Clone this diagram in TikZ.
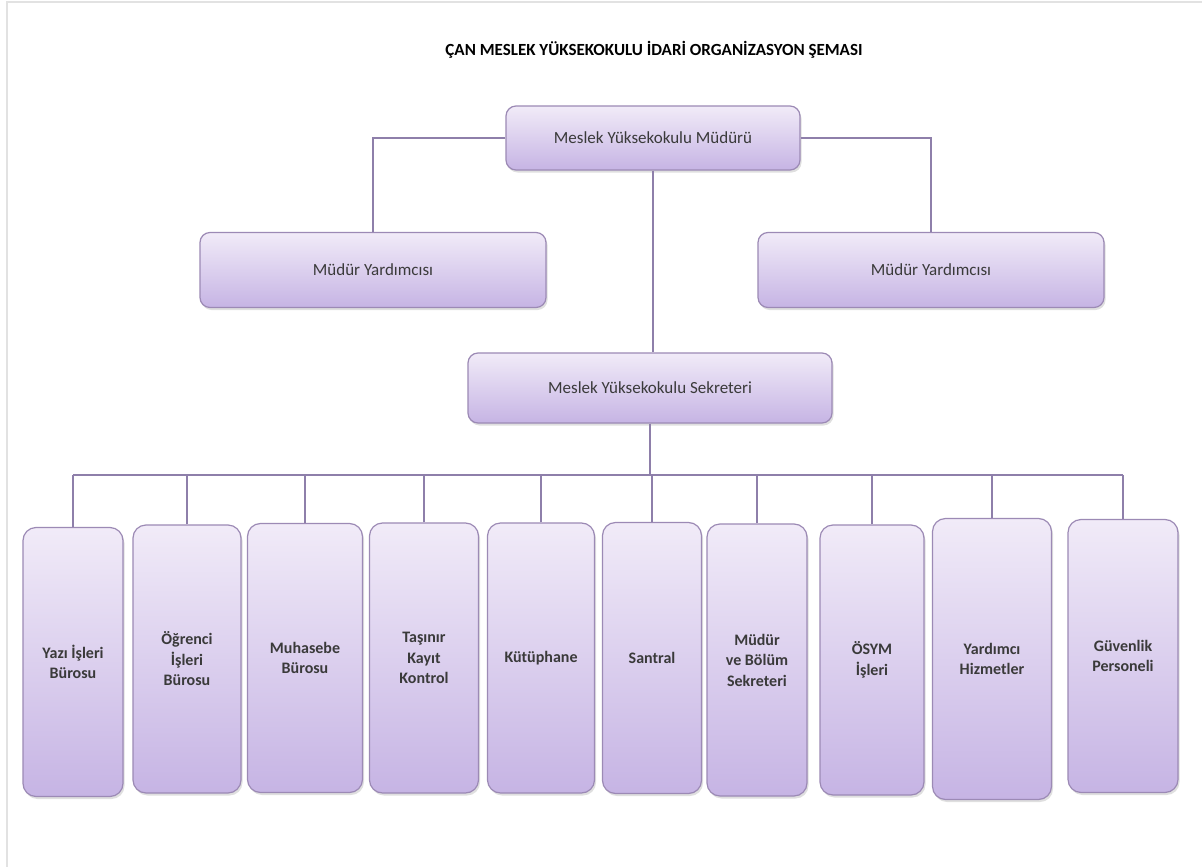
\documentclass[tikz,border=0pt]{standalone}
\usepackage{fontspec}
\setmainfont{Carlito}
\usetikzlibrary{shadows}

\definecolor{boxtop}{HTML}{F1EBF8}
\definecolor{boxbot}{HTML}{C6B4E4}
\definecolor{boxline}{HTML}{9C8AB5}
\definecolor{linkcol}{HTML}{8E7FAA}
\definecolor{txtcol}{HTML}{3A3A3A}
\definecolor{framecol}{HTML}{E2E2E2}

\tikzset{
	orgbox/.style={draw=boxline, line width=1.2pt, rounded corners=10pt,
		top color=boxtop, bottom color=boxbot, text=txtcol,
		font=\fontsize{17}{20}\selectfont, align=center, inner sep=0pt,
		drop shadow={opacity=0.25, shadow xshift=1.5pt, shadow yshift=-2.5pt}},
	unitbox/.style={orgbox, rounded corners=13pt,
		font=\bfseries\fontsize{16}{20.5}\selectfont},
	link/.style={draw=linkcol, line width=1.2pt},
}

\begin{document}
\begin{tikzpicture}[x=1pt, y=-1pt]
		\useasboundingbox (0,0) rectangle (1202,867);
		\fill[white] (0,0) rectangle (1202,867);
		\draw[framecol, line width=2pt] (7,867) -- (7,2) -- (1202,2);

		\node[font=\bfseries\fontsize{17}{20}\selectfont] (title) at (654,50) {ÇAN MESLEK YÜKSEKOKULU İDARİ ORGANİZASYON ŞEMASI};

		% upper levels
		\node[orgbox, minimum width=294pt, minimum height=64pt] (mud) at (653,138) {Meslek Yüksekokulu Müdürü};
		\node[orgbox, minimum width=346pt, minimum height=75pt] (myl) at (373,270) {Müdür Yardımcısı};
		\node[orgbox, minimum width=346pt, minimum height=75pt] (myr) at (931,270) {Müdür Yardımcısı};
		\node[orgbox, minimum width=364pt, minimum height=70pt] (sek) at (650,388) {Meslek Yüksekokulu Sekreteri};

		% units
		\node[unitbox, minimum width=100pt, minimum height=269pt] (yazi) at (73,662) {Yazı İşleri\\Bürosu};
		\node[unitbox, minimum width=108pt, minimum height=268pt] (ogr) at (187,659) {Öğrenci\\İşleri\\Bürosu};
		\node[unitbox, minimum width=115pt, minimum height=269pt] (muh) at (305,658) {Muhasebe\\Bürosu};
		\node[unitbox, minimum width=109pt, minimum height=270pt] (tas) at (424,658) {Taşınır\\Kayıt\\Kontrol};
		\node[unitbox, minimum width=107pt, minimum height=270pt] (kut) at (541,658) {Kütüphane};
		\node[unitbox, minimum width=99pt, minimum height=271pt] (san) at (652,658) {Santral};
		\node[unitbox, minimum width=100pt, minimum height=272pt] (bol) at (757,660) {Müdür\\ve Bölüm\\Sekreteri};
		\node[unitbox, minimum width=104pt, minimum height=270pt] (osym) at (872,660) {ÖSYM\\İşleri};
		\node[unitbox, minimum width=119pt, minimum height=281pt] (yrd) at (992,659) {Yardımcı\\Hizmetler};
		\node[unitbox, minimum width=110pt, minimum height=273pt] (guv) at (1123,656) {Güvenlik\\Personeli};

		\coordinate (bus) at (655,475);

		% connectors
		\draw[link] (mud.west) -| (myl.north);
		\draw[link] (mud.east) -| (myr.north);
		\draw[link] (mud.south) -- (mud.south |- sek.north);
		\draw[link] (sek.south) -- (sek.south |- bus);
		\draw[link] (yazi.north |- bus) -- (guv.north |- bus);

		\draw[link] (yazi.north) -- (yazi.north |- bus);
		\draw[link] (ogr.north) -- (ogr.north |- bus);
		\draw[link] (muh.north) -- (muh.north |- bus);
		\draw[link] (tas.north) -- (tas.north |- bus);
		\draw[link] (kut.north) -- (kut.north |- bus);
		\draw[link] (san.north) -- (san.north |- bus);
		\draw[link] (bol.north) -- (bol.north |- bus);
		\draw[link] (osym.north) -- (osym.north |- bus);
		\draw[link] (yrd.north) -- (yrd.north |- bus);
		\draw[link] (guv.north) -- (guv.north |- bus);
	\end{tikzpicture}
\end{document}
